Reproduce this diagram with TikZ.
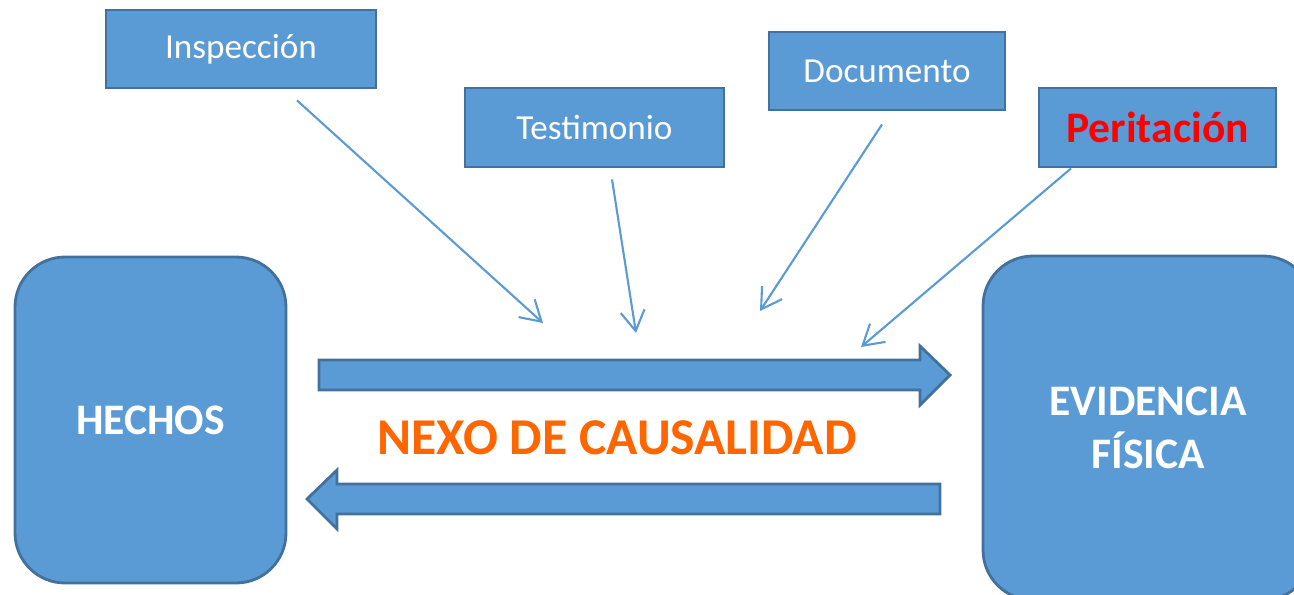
\documentclass[tikz,border=0pt]{standalone}
\usepackage{fontspec}
\setmainfont{Carlito}
\usetikzlibrary{arrows.meta}
\definecolor{cajaazul}{RGB}{91,155,213}
\definecolor{bordeazul}{RGB}{65,113,156}
\definecolor{naranja}{RGB}{255,102,0}

\begin{document}
\begin{tikzpicture}[
  caja/.style={draw=bordeazul, fill=cajaazul, line width=0.8pt, inner sep=0pt, text=white, font=\fontsize{10}{12}\selectfont},
  bloque/.style={draw=bordeazul, fill=cajaazul, line width=0.8pt, inner sep=0pt, rounded corners=0.5cm, text=white, align=center, font=\bfseries\fontsize{12.4}{15}\selectfont},
  flecha/.style={cajaazul, line width=0.6pt, -{Straight Barb[length=2mm,width=2.4mm]}},
  flechagrande/.style={draw=bordeazul, fill=cajaazul, line width=0.8pt}]
\clip (0,0) rectangle (12.94,-5.94);

% the sources of proof
\node [caja, minimum width=2.70cm, minimum height=0.78cm] (insp) at (2.41,-0.49) {Inspección};
\node [caja, minimum width=2.59cm, minimum height=0.79cm] (test) at (5.945,-1.275) {Testimonio};
\node [caja, minimum width=2.36cm, minimum height=0.78cm] (docu) at (8.87,-0.71) {Documento};
\node [caja, minimum width=2.37cm, minimum height=0.79cm, text=red, font=\bfseries\fontsize{12.4}{15}\selectfont] (peri) at (11.575,-1.275) {Peritación};

% the two ends
\node [bloque, minimum width=2.71cm, minimum height=3.26cm] (hechos) at (1.505,-4.20) {HECHOS};
\node [bloque, minimum width=3.30cm, minimum height=3.44cm] (evid) at (11.48,-4.28) {EVIDENCIA\\FÍSICA};

% the thin arrows
\coordinate (a1) at ([xshift=5.6mm,yshift=-1.1mm]insp.south);
\coordinate (a2) at ([xshift=1.75mm,yshift=-1.1mm]test.south);
\coordinate (a3) at ([xshift=-0.5mm,yshift=-1.3mm]docu.south);
\coordinate (a4) at ([xshift=-8.65mm]peri.south);
\coordinate (p1) at (5.43,-3.23);
\coordinate (p2) at (6.36,-3.33);
\coordinate (p3) at (7.60,-3.11);
\coordinate (p4) at (8.61,-3.47);
\draw [flecha] (a1) -- (p1);
\draw [flecha] (a2) -- (p2);
\draw [flecha] (a3) -- (p3);
\draw [flecha] (a4) -- (p4);

% the big arrows
\draw [flechagrande] (3.19,-3.60) -- (9.20,-3.60) -- (9.20,-3.46) -- (9.50,-3.75) -- (9.20,-4.05) -- (9.20,-3.90) -- (3.19,-3.90) -- cycle;
\draw [flechagrande] (9.40,-4.84) -- (3.37,-4.84) -- (3.37,-4.70) -- (3.07,-4.99) -- (3.37,-5.29) -- (3.37,-5.14) -- (9.40,-5.14) -- cycle;
\node [text=naranja, font=\bfseries\fontsize{14.7}{17}\selectfont] (nexo) at (6.17,-4.38) {NEXO DE CAUSALIDAD};

\end{tikzpicture}
\end{document}
